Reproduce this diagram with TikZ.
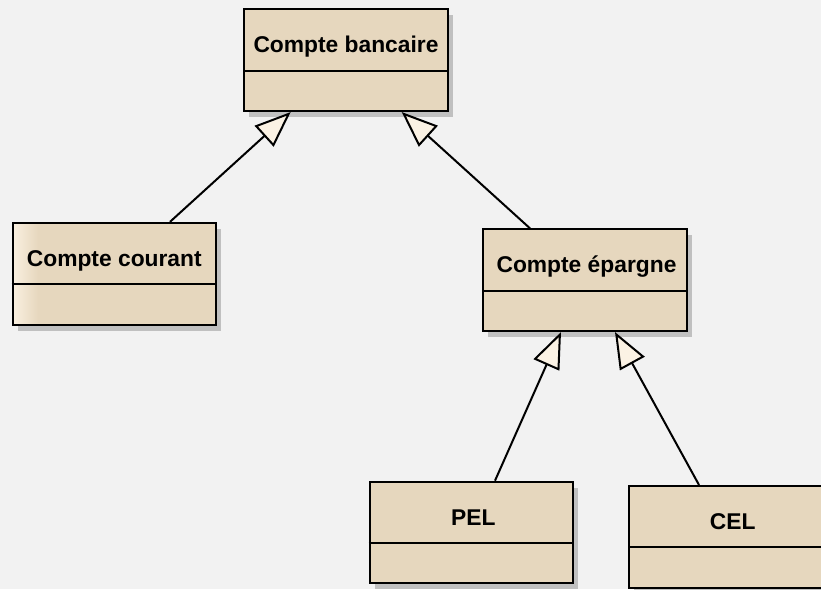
\documentclass[tikz,border=0pt]{standalone}
\usepackage{fontspec}
\setmainfont{Liberation Sans}
\usetikzlibrary{arrows.meta,shadows}

\definecolor{bgcol}{RGB}{242,242,242}
\definecolor{classfill}{RGB}{230,215,190}
\definecolor{classlight}{RGB}{250,240,224}
\definecolor{shadowcol}{RGB}{192,192,192}
\definecolor{tipfill}{RGB}{251,242,228}

\tikzset{
  classbox/.style={draw=black, line width=2pt, fill=classfill,
    minimum width=203.4pt, minimum height=101.7pt, inner sep=0pt,
    drop shadow={shadow xshift=5pt, shadow yshift=-6pt, fill=shadowcol, opacity=1}},
  classname/.style={anchor=base, inner sep=0pt,
    font=\fontsize{22.8}{27}\selectfont\bfseries},
  divider/.style={line width=2pt},
  inherit/.style={line width=2pt,
    -{Triangle[length=36pt, width=28pt, fill=tipfill, line width=2pt]}},
}

% divider 61.5 below the top edge of a class box
\newcommand{\classdivider}[1]{%
  \draw[divider] ([yshift=-10.65pt]#1.west) -- ([yshift=-10.65pt]#1.east);}

\begin{document}
\begin{tikzpicture}[x=1pt, y=-1pt]
  \fill[bgcol] (0,0) rectangle (821,589);
  \useasboundingbox (0,0) rectangle (821,589);
  \clip (0,0) rectangle (821,589);

  % classes
  \node[classbox] (cb)  at (346,60.2)   {};
  \node[classbox] (cc)  at (114.3,273.7) {};
  \node[classbox] (ce)  at (585,280.2)  {};
  \node[classbox] (pel) at (471.3,532.5) {};
  \node[classbox] (cel) at (730.7,536.8) {};

  % soft light band along the left side of "Compte courant"
  \foreach \i in {0,...,25} {
    \pgfmathsetmacro{\mix}{100-\i*4}
    \fill[classlight!\mix!classfill]
      ([xshift=\i pt+1pt]cc.south west) rectangle ([xshift=\i pt+2.05pt]cc.north west);
  }
  \draw[line width=2pt] ([shift={(1pt,1pt)}]cc.south west)
    rectangle ([shift={(-1pt,-1pt)}]cc.north east);

  \foreach \n in {cb,cc,ce,pel,cel} {\classdivider{\n}}

  \node[classname] (cbname)  at ([yshift=-44.5pt]cb.north)  {Compte bancaire};
  \node[classname] (ccname)  at ([yshift=-44.5pt]cc.north)  {Compte courant};
  \node[classname] (cename)  at ([yshift=-44.5pt,xshift=1.5pt]ce.north)  {Compte épargne};
  \node[classname] (pelname) at ([yshift=-44.5pt,xshift=2pt]pel.north) {PEL};
  \node[classname] (celname) at ([yshift=-44.5pt,xshift=2pt]cel.north) {CEL};

  % generalisations
  \draw[inherit] ([xshift=55.7pt]cc.north)  -- ([xshift=-55.3pt]cb.south);
  \draw[inherit] ([xshift=-55pt]ce.north)   -- ([xshift=55.7pt]cb.south);
  \draw[inherit] ([xshift=23.7pt]pel.north) -- ([xshift=-24pt]ce.south);
  \draw[inherit] ([xshift=-31.7pt]cel.north) -- ([xshift=30pt]ce.south);
\end{tikzpicture}
\end{document}
